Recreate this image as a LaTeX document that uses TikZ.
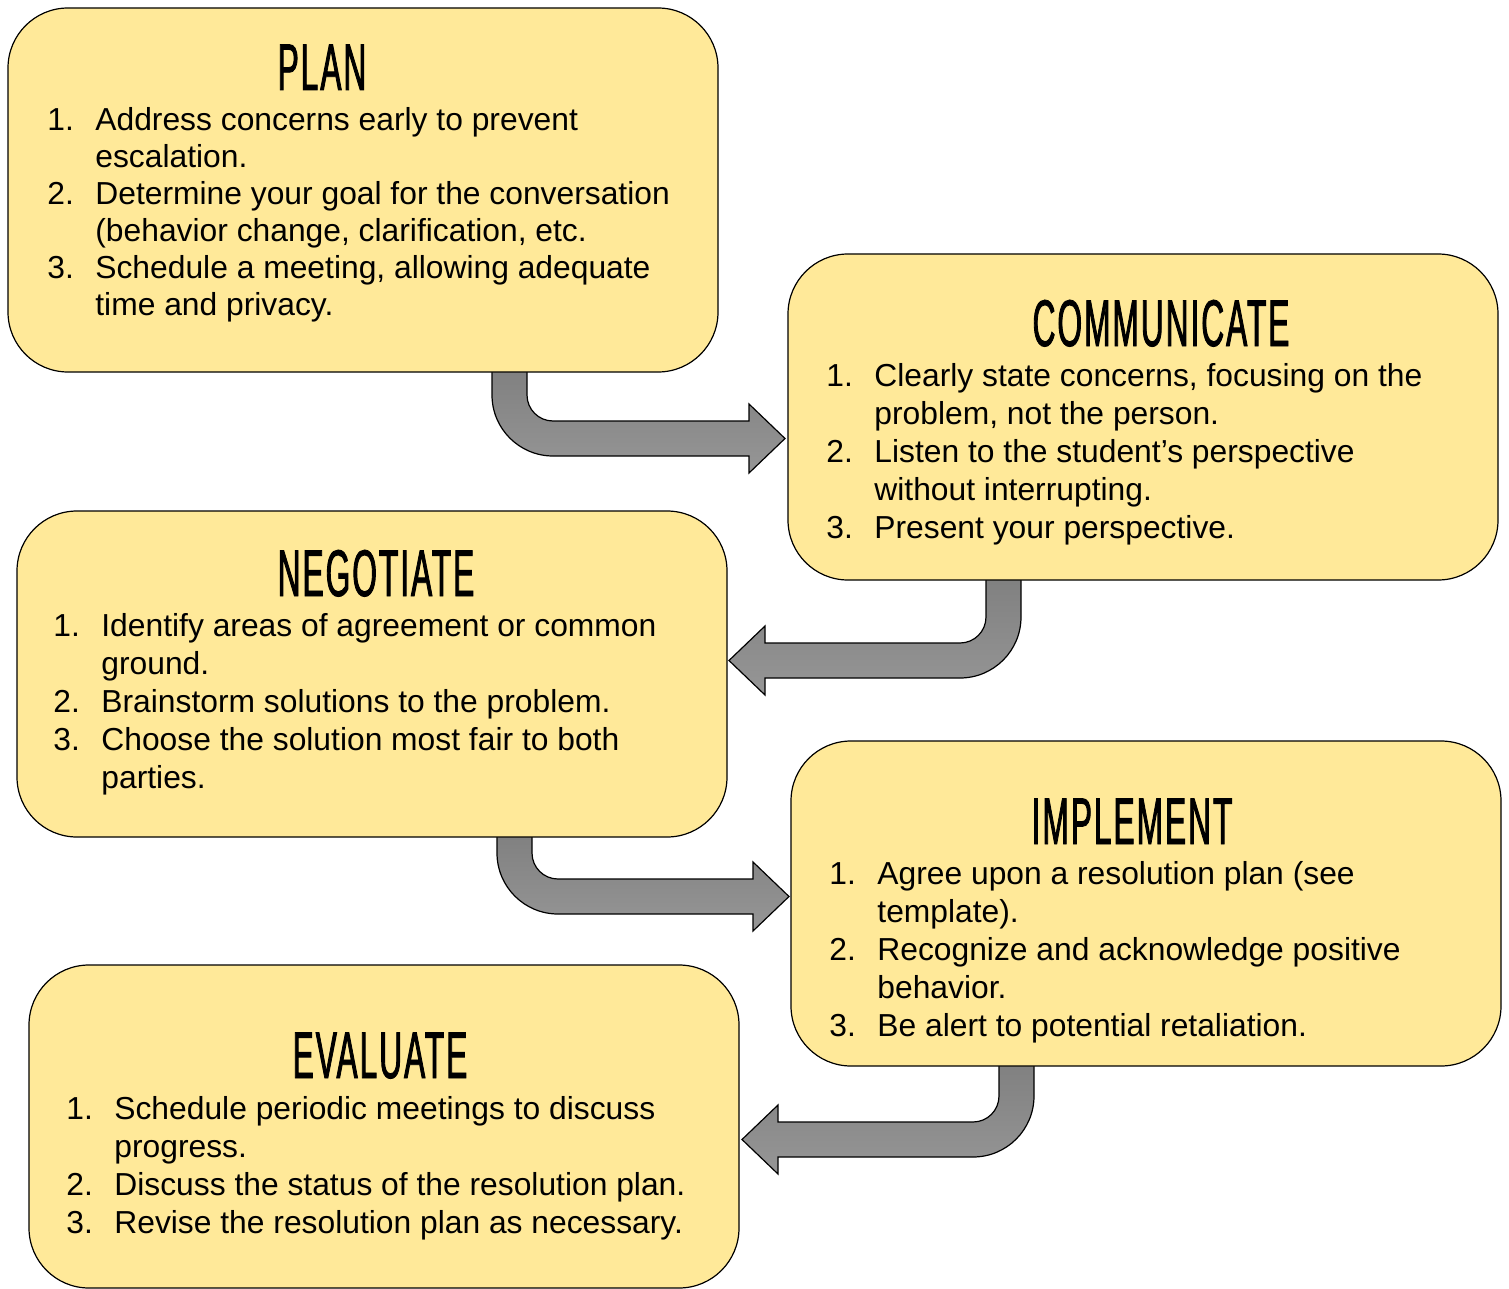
\documentclass[tikz,border=0pt]{standalone}
\usepackage{fontspec}
\setmainfont{Liberation Sans}
\newfontfamily\headfont[FakeStretch=0.48,FakeBold=1.3,LetterSpace=3]{Liberation Sans}
\usepackage{tikz}
\usetikzlibrary{positioning}

\definecolor{boxyellow}{RGB}{255,233,153}
\definecolor{arrowtop}{RGB}{128,128,128}
\definecolor{arrowgray}{RGB}{150,150,150}

% bent block arrows: centre of the bend (x,y), top end y, tip x
\newcommand{\bendright}[4]{%
  \path[bentarrow] (#1-61,#3) -- (#1-61,#2) arc[start angle=180,end angle=270,radius=30.5pt]
    -- (#4-36,#2+61) -- (#4-36,#2+78) -- (#4,#2+43.5) -- (#4-36,#2+9) -- (#4-36,#2+26)
    -- (#1,#2+26) arc[start angle=270,end angle=180,radius=13pt] -- (#1-26,#3) -- cycle;}
\newcommand{\bendleft}[4]{%
  \path[bentarrow] (#1+61,#3) -- (#1+61,#2) arc[start angle=0,end angle=-90,radius=30.5pt]
    -- (#4+36,#2+61) -- (#4+36,#2+78) -- (#4,#2+43.5) -- (#4+36,#2+9) -- (#4+36,#2+26)
    -- (#1,#2+26) arc[start angle=270,end angle=360,radius=13pt] -- (#1+26,#3) -- cycle;}

\begin{document}
\begin{tikzpicture}[x=0.5pt,y=-0.5pt]
       \tikzstyle{stage}=[draw=black, line width=0.6pt, fill=boxyellow, rounded corners=30pt,
                          minimum width=355pt, inner sep=0pt]
       \tikzstyle{heading}=[anchor=base, inner sep=0pt, font=\headfont\fontsize{33}{33}\selectfont]
       \tikzstyle{items}=[anchor=base west, inner sep=0pt, font=\fontsize{15.9}{19.1}\selectfont]
       \tikzstyle{bentarrow}=[draw=black, line width=0.6pt, top color=arrowtop, bottom color=arrowgray]

       \useasboundingbox (0,0) rectangle (1509,1289);

       % arrows
       \bendright{553}{395}{368}{785}
       \bendleft{960}{617}{576}{729}
       \bendright{558}{853}{833}{789}
       \bendleft{973}{1096}{1062}{742}

       % stages
       \node[stage, minimum height=182pt] (plan) at (363,190) {};
       \node[stage, minimum height=163pt] (communicate) at (1143,417) {};
       \node[stage, minimum height=163pt] (negotiate) at (372,674) {};
       \node[stage, minimum height=162.5pt] (implement) at (1146,903.5) {};
       \node[stage, minimum height=161.5pt] (evaluate) at (384,1126.5) {};

       \node[heading] (plan-title) at (322,90) {PLAN};
       \node[heading] (communicate-title) at (1161,346) {COMMUNICATE};
       \node[heading] (negotiate-title) at (376,596) {NEGOTIATE};
       \node[heading] (implement-title) at (1132,844) {IMPLEMENT};
       \node[heading] (evaluate-title) at (380,1078) {EVALUATE};

       \node[items, font=\fontsize{15.9}{18.5}\selectfont] (plan-list) at (47,131) {%
         \begin{tabular}[t]{@{}p{24pt}@{}l@{}}
         1. & Address concerns early to prevent\\
            & escalation.\\
         2. & Determine your goal for the conversation\\
            & (behavior change, clarification, etc.\\
         3. & Schedule a meeting, allowing adequate\\
            & time and privacy.
         \end{tabular}};
       \node[items] (communicate-list) at (826,386) {%
         \begin{tabular}[t]{@{}p{24pt}@{}l@{}}
         1. & Clearly state concerns, focusing on the\\
            & problem, not the person.\\
         2. & Listen to the student’s perspective\\
            & without interrupting.\\
         3. & Present your perspective.
         \end{tabular}};
       \node[items] (negotiate-list) at (53,636) {%
         \begin{tabular}[t]{@{}p{24pt}@{}l@{}}
         1. & Identify areas of agreement or common\\
            & ground.\\
         2. & Brainstorm solutions to the problem.\\
         3. & Choose the solution most fair to both\\
            & parties.
         \end{tabular}};
       \node[items] (implement-list) at (829,884) {%
         \begin{tabular}[t]{@{}p{24pt}@{}l@{}}
         1. & Agree upon a resolution plan (see\\
            & template).\\
         2. & Recognize and acknowledge positive\\
            & behavior.\\
         3. & Be alert to potential retaliation.
         \end{tabular}};
       \node[items] (evaluate-list) at (66,1119) {%
         \begin{tabular}[t]{@{}p{24pt}@{}l@{}}
         1. & Schedule periodic meetings to discuss\\
            & progress.\\
         2. & Discuss the status of the resolution plan.\\
         3. & Revise the resolution plan as necessary.
         \end{tabular}};

     \end{tikzpicture}
\end{document}
